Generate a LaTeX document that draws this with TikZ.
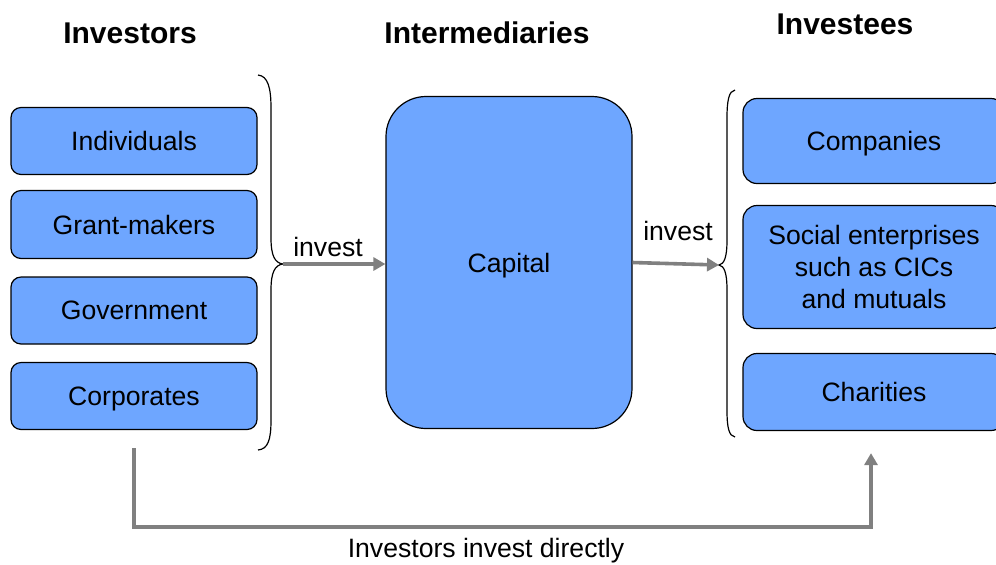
\documentclass[tikz,border=0pt]{standalone}
\usepackage{fontspec}
\setmainfont{Liberation Sans}
\usetikzlibrary{arrows.meta}
\definecolor{boxblue}{RGB}{110,166,255}
\definecolor{arrgray}{RGB}{128,128,128}
\begin{document}
\begin{tikzpicture}[x=0.5pt,y=-0.5pt,
  box/.style={draw=black, line width=0.6pt, fill=boxblue, rounded corners=5pt, inner sep=0pt, align=center, text depth=0pt, font=\fontsize{13.3}{16}\selectfont},
  title/.style={font=\fontsize{15}{18}\selectfont\bfseries, inner sep=0pt},
  lbl/.style={font=\fontsize{13.3}{16}\selectfont, inner sep=0pt},
  arr/.style={draw=arrgray, line width=1.8pt, -{Triangle[length=6pt,width=6.5pt]}},
  brace/.style={draw=black, line width=0.6pt}]
\useasboundingbox (0,0) rectangle (996,564);
\clip (0,0) rectangle (996,564);
% titles
\node[title] (tinv) at (130,33) {Investors};
\node[title] (tint) at (487,33) {Intermediaries};
\node[title] (tee) at (845,24) {Investees};
% investors
\node[box, minimum width=123pt, minimum height=33.5pt] (ind) at (134,141) {Individuals};
\node[box, minimum width=123pt, minimum height=34pt] (grant) at (134,224.5) {Grant-makers};
\node[box, minimum width=123pt, minimum height=33.5pt] (gov) at (134,310.5) {Government};
\node[box, minimum width=123pt, minimum height=33.5pt] (corp) at (134,396) {Corporates};
% capital
\node[box, rounded corners=20pt, minimum width=123pt, minimum height=166pt] (cap) at (509,262.5) {Capital};
% investees
\node[box, rounded corners=7pt, minimum width=131pt, minimum height=42.5pt] (comp) at (874,141) {Companies};
\node[box, rounded corners=7pt, minimum width=131pt, minimum height=61.5pt] (soc) at (874,267) {Social enterprises\\such as CICs\\and mutuals};
\node[box, rounded corners=7pt, minimum width=131pt, minimum height=38.5pt] (char) at (874,392) {Charities};
% braces
\coordinate (lt) at (283,264);
\coordinate (rt) at (719,265);
\draw[brace] (258,75) .. controls (268,76) and (271,88) .. (271,108) -- (271,238) .. controls (271,256) and (275,263) .. (lt) .. controls (275,265) and (271,272) .. (271,290) -- (271,420) .. controls (271,440) and (268,449) .. (258,450);
\draw[brace] (735,90) .. controls (729,91) and (727,100) .. (727,118) -- (727,240) .. controls (727,258) and (724,264) .. (rt) .. controls (724,266) and (727,272) .. (727,290) -- (727,410) .. controls (727,428) and (729,436) .. (735,437);
% arrows
\draw[arr] (lt) -- (lt -| cap.west);
\draw[arr] (cap.east) -- (rt);
\node[lbl] (inv1) at (328,247) {invest};
\node[lbl] (inv2) at (678,231) {invest};
\coordinate (bot) at (0,527);
\draw[arr] ([yshift=-9pt]corp.south) -- (corp.south |- bot) -| ([xshift=-1.5pt,yshift=-11pt]char.south);
\node[lbl, anchor=base] (direct) at (486,557) {Investors invest directly};
\end{tikzpicture}
\end{document}
